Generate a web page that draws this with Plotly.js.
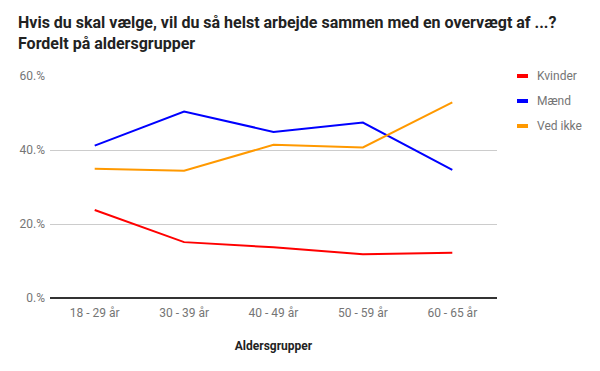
<!DOCTYPE html>
<html>
<head>
<meta charset="utf-8">
<script src="https://cdn.plot.ly/plotly-3.0.1.min.js"></script>
<style>html,body{margin:0;padding:0;background:#fff}#chart{width:600px;height:371px}</style>
</head>
<body>
<div id="chart"></div>
<script>
const categories = ["18 - 29 år", "30 - 39 år", "40 - 49 år", "50 - 59 år", "60 - 65 år"];
const kvinder = [23.8, 15.1, 13.7, 11.8, 12.2];
const maend = [41.2, 50.4, 44.9, 47.4, 34.6];
const vedIkke = [34.9, 34.4, 41.4, 40.7, 52.9];
const seriesNames = ["Kvinder", "Mænd", "Ved ikke"];
const yTicks = [0, 20, 40, 60];
const yTickLabels = ["0.%", "20.%", "40.%", "60.%"];

const colors = ["#ff0000", "#0000ff", "#ff9900"];
const data = [kvinder, maend, vedIkke].map((vals, i) => ({
  x: categories, y: vals, name: seriesNames[i], type: "scatter", mode: "lines",
  line: {color: colors[i], width: 2}
}));

// custom legend (short thick swatches like the reference)
const plotW = 600 - 50 - 103, plotH = 371 - 76 - 73;
const px = v => (v - 50) / plotW;
const py = v => (371 - 73 - v) / plotH;
const shapes = [], annotations = [];
seriesNames.forEach((name, i) => {
  const yy = 76 + i * 25;
  shapes.push({type: "line", xref: "paper", yref: "paper", x0: px(517), x1: px(528), y0: py(yy), y1: py(yy),
    line: {color: colors[i], width: 4}});
  annotations.push({xref: "paper", yref: "paper", x: px(535), y: py(yy), xanchor: "left", yanchor: "middle",
    text: name, showarrow: false, font: {size: 12, color: "#757575"}});
});

const layout = {
  width: 600, height: 371,
  margin: {l: 50, r: 103, t: 76, b: 73},
  paper_bgcolor: "#fff", plot_bgcolor: "#fff",
  font: {family: "Roboto, Arial, sans-serif", color: "#757575", size: 12},
  title: {
    text: "<b>Hvis du skal vælge, vil du så helst arbejde sammen med en overvægt af ...?<br>Fordelt på aldersgrupper</b>",
    font: {family: "Roboto, Arial, sans-serif", size: 16, color: "#222"},
    x: 18/600, xanchor: "left", xref: "container", y: 1 - 28/371, yanchor: "top", yref: "container"
  },
  xaxis: {
    type: "category", range: [-0.5, 4.5], showgrid: false, zeroline: false, ticks: "", showline: false,
    tickfont: {size: 12, color: "#757575"}, ticklabelstandoff: 6,
    title: {text: "<b>Aldersgrupper</b>", font: {size: 12, color: "#222"}, standoff: 22}
  },
  yaxis: {
    range: [0, 60], tickvals: yTicks, ticktext: yTickLabels,
    showgrid: true, gridcolor: "#cccccc", gridwidth: 1,
    zeroline: true, zerolinecolor: "#333", zerolinewidth: 1.5,
    ticks: "", showline: false, tickfont: {size: 12, color: "#757575"}, ticklabelstandoff: 4
  },
  showlegend: false,
  shapes: shapes,
  annotations: annotations
};

Plotly.newPlot("chart", data, layout, {displayModeBar: false, staticPlot: true});
</script>
</body>
</html>
